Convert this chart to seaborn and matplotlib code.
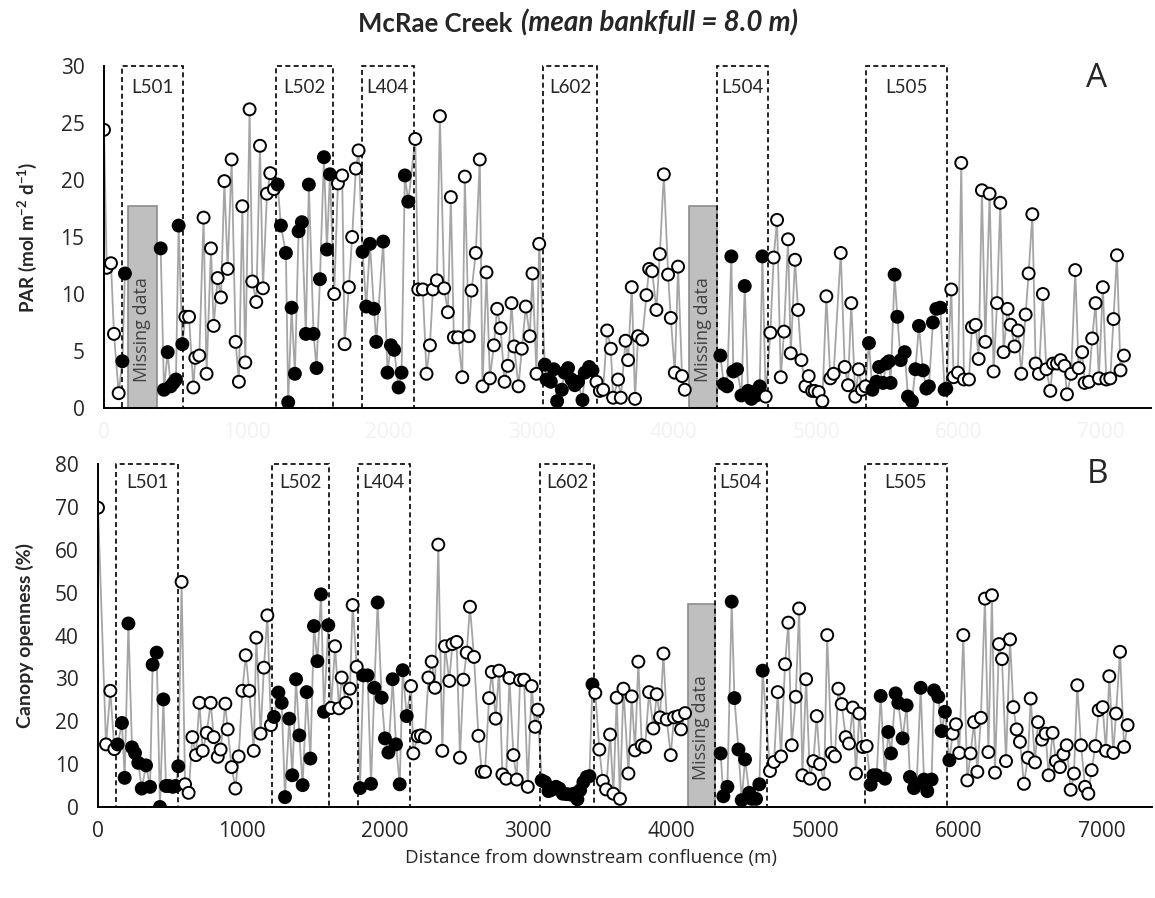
import numpy as np
import pandas as pd
import matplotlib
matplotlib.use('Agg')
import matplotlib.pyplot as plt
from matplotlib.patches import Rectangle
import seaborn as sns

# ---- data (distance from confluence in m) ----
reach_names = ['L501', 'L502', 'L404', 'L602', 'L504', 'L505']
reach_start = [126, 1210, 1810, 3083, 4300, 5349]
reach_end = [558, 1610, 2173, 3458, 4663, 5920]

par_x = [0, 19, 49, 70, 103, 129, 147, 398, 421, 447,
         468, 487, 505, 524, 550, 571, 597, 627, 641, 669,
         699, 720, 751, 770, 798, 821, 845, 868, 896, 924,
         947, 971, 992, 1022, 1041, 1069, 1095, 1116, 1144, 1167,
         1193, 1219, 1242, 1277, 1293, 1317, 1340, 1366, 1389, 1417,
         1438, 1471, 1492, 1516, 1544, 1565, 1586, 1616, 1642, 1672,
         1689, 1719, 1742, 1768, 1787, 1815, 1841, 1867, 1895, 1911,
         1960, 1990, 2014, 2037, 2068, 2089, 2112, 2136, 2185, 2206,
         2238, 2264, 2288, 2309, 2337, 2358, 2388, 2414, 2435, 2456,
         2486, 2515, 2533, 2561, 2580, 2610, 2638, 2657, 2685, 2709,
         2737, 2760, 2784, 2812, 2835, 2861, 2879, 2910, 2933, 2961,
         2989, 3008, 3036, 3055, 3095, 3106, 3137, 3158, 3181, 3214,
         3233, 3258, 3282, 3305, 3328, 3359, 3375, 3406, 3429, 3457,
         3481, 3504, 3532, 3558, 3574, 3609, 3628, 3661, 3679, 3705,
         3728, 3749, 3778, 3808, 3827, 3848, 3878, 3902, 3930, 3960,
         3979, 4007, 4030, 4058, 4077, 4327, 4351, 4374, 4404, 4418,
         4444, 4475, 4498, 4521, 4545, 4563, 4580, 4603, 4622, 4645,
         4678, 4701, 4725, 4751, 4774, 4802, 4821, 4851, 4872, 4896,
         4924, 4947, 4971, 4989, 5017, 5043, 5071, 5099, 5122, 5172,
         5200, 5223, 5246, 5274, 5298, 5321, 5345, 5370, 5394, 5422,
         5441, 5469, 5492, 5511, 5522, 5550, 5569, 5593, 5621, 5644,
         5672, 5696, 5721, 5749, 5773, 5791, 5819, 5843, 5871, 5901,
         5913, 5948, 5964, 5995, 6018, 6037, 6072, 6093, 6119, 6140,
         6163, 6187, 6217, 6245, 6269, 6292, 6315, 6343, 6364, 6392,
         6416, 6439, 6470, 6491, 6517, 6540, 6563, 6591, 6615, 6643,
         6662, 6690, 6715, 6743, 6760, 6790, 6818, 6842, 6867, 6884,
         6914, 6937, 6961, 6984, 7012, 7036, 7064, 7087, 7111, 7136,
         7160]
par_y = [24.4, 12.3, 12.7, 6.5, 1.3, 4.1, 11.8, 14.0, 1.6, 4.9,
         1.9, 2.2, 2.5, 16.0, 5.6, 8.0, 8.0, 1.8, 4.4, 4.6,
         16.7, 3.0, 14.0, 7.2, 11.4, 9.7, 19.9, 12.2, 21.8, 5.8,
         2.3, 17.7, 4.0, 26.2, 11.1, 9.3, 23.0, 10.5, 18.8, 20.6,
         19.2, 19.6, 16.0, 13.6, 0.5, 8.8, 3.0, 15.5, 16.3, 6.5,
         19.6, 6.5, 3.5, 11.3, 22.0, 13.9, 20.5, 10.0, 19.7, 20.4,
         5.6, 10.6, 15.0, 21.0, 22.6, 13.7, 8.9, 14.4, 8.7, 5.8,
         14.6, 3.1, 5.5, 5.1, 1.8, 3.1, 20.4, 18.1, 23.6, 10.4,
         10.4, 3.0, 5.5, 10.4, 11.2, 25.6, 10.5, 8.4, 18.5, 6.2,
         6.2, 2.7, 20.3, 6.3, 10.3, 13.6, 21.8, 1.9, 11.9, 2.6,
         5.5, 8.7, 7.0, 2.3, 3.7, 9.2, 5.4, 1.9, 5.2, 8.9,
         6.3, 11.8, 3.0, 14.4, 3.8, 2.5, 2.3, 3.4, 0.6, 1.6,
         3.1, 3.5, 2.5, 2.0, 2.3, 0.7, 3.1, 3.6, 3.3, 2.3,
         1.5, 1.6, 6.8, 5.2, 0.9, 2.5, 0.9, 5.9, 4.2, 10.6,
         0.8, 6.3, 6.0, 9.9, 12.2, 12.0, 8.6, 13.5, 20.5, 11.7,
         7.9, 3.1, 12.4, 2.8, 1.6, 4.6, 2.1, 1.9, 13.3, 3.2,
         3.4, 1.1, 10.7, 1.5, 0.8, 1.4, 1.1, 1.9, 13.3, 1.0,
         6.6, 13.2, 16.5, 2.7, 6.7, 14.8, 4.8, 13.0, 8.6, 4.2,
         1.9, 2.8, 1.5, 1.5, 1.4, 0.6, 9.8, 2.6, 3.0, 13.6,
         3.6, 2.0, 9.2, 1.0, 3.4, 1.6, 1.9, 5.7, 1.6, 2.3,
         3.6, 2.2, 3.9, 4.1, 2.2, 11.7, 8.0, 4.2, 4.9, 1.0,
         0.6, 3.4, 7.2, 3.3, 1.7, 1.9, 7.5, 8.7, 8.8, 1.6,
         1.7, 10.4, 2.7, 3.1, 21.5, 2.5, 2.5, 7.1, 7.3, 4.3,
         19.1, 5.8, 18.8, 3.2, 9.2, 18.0, 4.9, 8.7, 7.3, 5.4,
         6.8, 3.0, 8.2, 11.8, 17.0, 3.9, 3.0, 10.0, 3.4, 1.5,
         3.9, 3.9, 4.2, 3.7, 1.2, 3.0, 12.1, 3.5, 4.9, 2.2,
         2.3, 6.1, 9.2, 2.6, 10.6, 2.5, 2.6, 7.8, 13.4, 3.3,
         4.6]
# stretches sampled inside the reaches (filled markers)
par_fill_start = [120, 1205, 1800, 3080, 4300, 5355]
par_fill_end = [560, 1600, 2160, 3440, 4635, 5930]
par_gap_start = [166, 4108]
par_gap_end = [372, 4300]
par_gap_top = 17.7

can_x = [0, 56, 86, 114, 137, 167, 186, 212, 237, 258,
         281, 305, 335, 363, 381, 409, 432, 456, 474, 495,
         521, 542, 560, 583, 607, 632, 658, 683, 707, 730,
         758, 786, 807, 835, 855, 888, 904, 932, 958, 981,
         1007, 1030, 1055, 1086, 1104, 1134, 1157, 1181, 1206, 1227,
         1258, 1281, 1304, 1334, 1355, 1381, 1404, 1427, 1455, 1481,
         1506, 1530, 1555, 1576, 1606, 1625, 1653, 1681, 1699, 1729,
         1757, 1776, 1804, 1827, 1850, 1880, 1904, 1927, 1950, 1978,
         2001, 2025, 2055, 2078, 2104, 2125, 2153, 2183, 2199, 2229,
         2252, 2280, 2304, 2327, 2350, 2373, 2401, 2420, 2450, 2471,
         2501, 2524, 2548, 2571, 2594, 2622, 2653, 2676, 2699, 2727,
         2746, 2773, 2797, 2820, 2846, 2869, 2897, 2920, 2943, 2971,
         2997, 3024, 3048, 3066, 3094, 3117, 3141, 3164, 3194, 3217,
         3241, 3269, 3296, 3320, 3343, 3362, 3385, 3408, 3427, 3448,
         3468, 3496, 3520, 3543, 3571, 3594, 3617, 3640, 3664, 3699,
         3722, 3745, 3768, 3792, 3815, 3843, 3873, 3896, 3919, 3943,
         3966, 3994, 4017, 4047, 4066, 4094, 4342, 4361, 4389, 4419,
         4438, 4466, 4489, 4512, 4542, 4559, 4589, 4612, 4635, 4686,
         4714, 4740, 4763, 4791, 4814, 4838, 4866, 4889, 4912, 4938,
         4965, 4989, 5012, 5035, 5063, 5085, 5116, 5139, 5163, 5186,
         5214, 5237, 5263, 5286, 5309, 5332, 5360, 5388, 5407, 5430,
         5458, 5488, 5511, 5530, 5562, 5581, 5611, 5639, 5662, 5690,
         5709, 5737, 5760, 5783, 5813, 5830, 5860, 5883, 5906, 5937,
         5960, 5983, 6006, 6034, 6062, 6085, 6109, 6132, 6157, 6185,
         6209, 6234, 6255, 6283, 6304, 6332, 6360, 6383, 6406, 6429,
         6457, 6485, 6504, 6534, 6555, 6583, 6608, 6629, 6657, 6680,
         6708, 6732, 6755, 6783, 6806, 6829, 6855, 6883, 6906, 6929,
         6955, 6978, 7006, 7029, 7052, 7080, 7099, 7127, 7155, 7180]
can_y = [69.8, 14.6, 27.1, 13.5, 14.6, 19.6, 6.8, 42.8, 13.9, 12.6,
         10.3, 4.3, 9.7, 4.7, 33.2, 36.0, 0.0, 25.1, 4.9, 4.9,
         4.7, 4.9, 9.5, 52.5, 5.3, 3.3, 16.3, 12.1, 24.3, 13.1,
         17.3, 24.3, 16.3, 11.7, 13.4, 24.1, 18.1, 9.3, 4.3, 11.8,
         27.1, 35.4, 27.1, 13.1, 39.5, 17.1, 32.5, 44.7, 19.1, 21.0,
         26.7, 24.3, 2.3, 20.6, 7.4, 29.8, 16.7, 5.1, 26.8, 11.3,
         42.2, 34.0, 49.6, 22.2, 42.4, 23.1, 37.5, 23.0, 30.2, 24.3,
         27.6, 47.1, 32.7, 4.4, 30.7, 30.7, 5.4, 27.8, 47.7, 25.5,
         16.0, 12.7, 29.8, 14.6, 5.3, 31.9, 21.2, 28.2, 12.5, 16.5,
         16.7, 16.2, 30.2, 33.9, 27.8, 61.2, 13.1, 37.5, 29.4, 38.0,
         38.5, 11.5, 29.7, 36.0, 46.7, 35.0, 16.6, 8.2, 8.2, 25.4,
         31.5, 20.6, 31.8, 7.6, 6.6, 30.1, 12.1, 6.4, 29.6, 29.7,
         4.7, 28.2, 18.7, 22.7, 6.2, 5.8, 3.7, 4.0, 4.7, 4.3,
         3.1, 3.0, 2.9, 3.1, 1.8, 3.9, 5.8, 7.0, 7.2, 28.6,
         26.6, 13.4, 6.1, 4.1, 16.9, 3.1, 25.5, 1.9, 27.6, 7.8,
         25.8, 13.2, 33.9, 14.4, 14.0, 26.8, 18.3, 26.3, 20.9, 35.8,
         20.4, 12.1, 20.9, 21.2, 18.1, 21.9, 12.5, 2.5, 4.7, 47.9,
         25.4, 13.4, 1.6, 11.1, 3.3, 1.9, 1.9, 5.3, 31.8, 8.4,
         10.5, 26.8, 11.8, 33.3, 43.0, 14.4, 25.7, 46.3, 7.4, 29.8,
         6.6, 10.7, 21.2, 10.0, 5.4, 40.1, 12.6, 11.8, 27.6, 24.0,
         16.3, 14.8, 23.2, 7.8, 21.8, 14.0, 14.2, 5.2, 7.4, 7.4,
         25.9, 6.6, 17.5, 12.5, 26.5, 24.3, 16.0, 23.7, 7.0, 4.4,
         5.4, 27.8, 6.4, 3.7, 6.4, 27.2, 25.7, 17.7, 22.2, 10.9,
         17.1, 19.3, 12.6, 40.1, 6.2, 12.5, 19.8, 8.2, 20.8, 48.6,
         12.8, 49.4, 8.0, 38.0, 34.5, 10.7, 39.1, 23.3, 18.1, 15.2,
         5.4, 11.5, 25.3, 10.4, 19.8, 15.7, 17.1, 7.4, 17.3, 10.7,
         9.3, 12.3, 14.4, 4.0, 7.8, 28.4, 14.4, 4.7, 3.1, 8.6,
         14.2, 22.6, 23.3, 13.1, 30.5, 12.6, 21.8, 36.2, 14.0, 19.1]
can_fill_start = [125, 1215, 1815, 3085, 4335, 5375]
can_fill_end = [570, 1615, 2165, 3455, 4645, 5945]
can_gap_start = [4115]
can_gap_end = [4300]
can_gap_top = 47.3

x_ticks = [0, 1000, 2000, 3000, 4000, 5000, 6000, 7000]

# ---- style ----
sns.set_style('white')
plt.rcParams['font.family'] = ['Open Sans', 'DejaVu Sans']
plt.rcParams['mathtext.fontset'] = 'custom'
plt.rcParams['mathtext.rm'] = 'Lato:bold'
plt.rcParams['mathtext.bf'] = 'Lato:bold'

W, H = 1155, 898
fig = plt.figure(figsize=(W / 100, H / 100), dpi=100)


def px_axes(left, right, top, bottom):
    return fig.add_axes([left / W, 1 - bottom / H, (right - left) / W, (bottom - top) / H])


ax_a = px_axes(104, 1151, 66, 408)
ax_b = px_axes(98, 1152, 464, 807)


def draw_panel(ax, xs, ys, f_start, f_end, g_start, g_end, g_top, ymax, yticks,
               label_y, tick_color):
    df = pd.DataFrame({'dist': xs, 'val': ys})
    df['in_reach'] = [any(a <= v <= b for a, b in zip(f_start, f_end)) for v in xs]

    sns.lineplot(data=df, x='dist', y='val', sort=False, estimator=None,
                 color='#a5a5a5', linewidth=1.3, ax=ax, zorder=2)
    sns.scatterplot(data=df, x='dist', y='val', hue='in_reach',
                    palette={False: 'white', True: 'black'}, edgecolor='black',
                    linewidth=1.4, s=74, legend=False, ax=ax, zorder=4)

    # missing data blocks
    for a, b in zip(g_start, g_end):
        ax.add_patch(Rectangle((a, 0), b - a, g_top, facecolor='#bfbfbf',
                               edgecolor='#8c8c8c', linewidth=1.2, zorder=3))
        ax.text((a + b) / 2, g_top * 0.39, 'Missing data', rotation=90,
                ha='center', va='center', fontsize=13, color='#404040', zorder=3.5)

    # reach boxes
    for name, a, b in zip(reach_names, reach_start, reach_end):
        ax.add_patch(Rectangle((a, 0), b - a, ymax, fill=False, edgecolor='black',
                               linestyle=(0, (3, 2)), linewidth=1.2, zorder=3.2,
                               clip_on=False))
        ax.text((a + b) / 2, label_y, name, ha='center', va='center',
                fontsize=13.5, family=['Lato', 'DejaVu Sans'], zorder=5)

    ax.set_xlim(0, 7350)
    ax.set_ylim(0, ymax)
    ax.set_yticks(yticks)
    ax.set_xticks(x_ticks)
    ax.set_xlabel('')
    ax.set_ylabel('')
    for s in ['top', 'right']:
        ax.spines[s].set_visible(False)
    for s in ['left', 'bottom']:
        ax.spines[s].set_color('black')
        ax.spines[s].set_linewidth(1.4)
        ax.spines[s].set_zorder(6)
    ax.tick_params(axis='y', length=0, pad=14, labelsize=15, labelcolor='#262626')
    ax.tick_params(axis='x', length=0, pad=10, labelsize=15, labelcolor=tick_color)


draw_panel(ax_a, par_x, par_y, par_fill_start, par_fill_end,
           par_gap_start, par_gap_end, par_gap_top, 30, list(range(0, 31, 5)),
           28.1, '#f2f2f2')
draw_panel(ax_b, can_x, can_y, can_fill_start, can_fill_end,
           can_gap_start, can_gap_end, can_gap_top, 80, list(range(0, 81, 10)),
           75.6, '#262626')

# panel letters
fig.text(1097 / W, 1 - 87 / H, 'A', ha='center', va='baseline', fontsize=24)
fig.text(1097 / W, 1 - 483 / H, 'B', ha='center', va='baseline', fontsize=24)

# axis titles
fig.text(27 / W, 1 - 237 / H, 'PAR (mol m$^{-2}$ d$^{-1}$)', rotation=90,
         ha='center', va='center', fontsize=13.5, fontweight='bold',
         family=['Lato', 'DejaVu Sans'])
fig.text(25 / W, 1 - 635 / H, 'Canopy openness (%)', rotation=90,
         ha='center', va='center', fontsize=14, fontweight='bold',
         family=['Lato', 'DejaVu Sans'])
fig.text(591 / W, 1 - 858 / H, 'Distance from downstream confluence (m)',
         ha='center', va='center', fontsize=13.5)

# title: bold + bold italic
t1 = fig.text(358 / W, 1 - 36 / H, 'McRae Creek', ha='left', va='bottom',
              fontsize=18.5, fontweight='bold', family=['Lato', 'DejaVu Sans'])
ax_a.annotate('(mean bankfull = 8.0 m)', xy=(1, 0), xycoords=t1,
              xytext=(6, 0), textcoords='offset points', ha='left', va='bottom',
              fontsize=20, fontweight='bold', style='italic',
              family=['Lato', 'DejaVu Sans'], annotation_clip=False)

fig.savefig('out.png', dpi=100)
